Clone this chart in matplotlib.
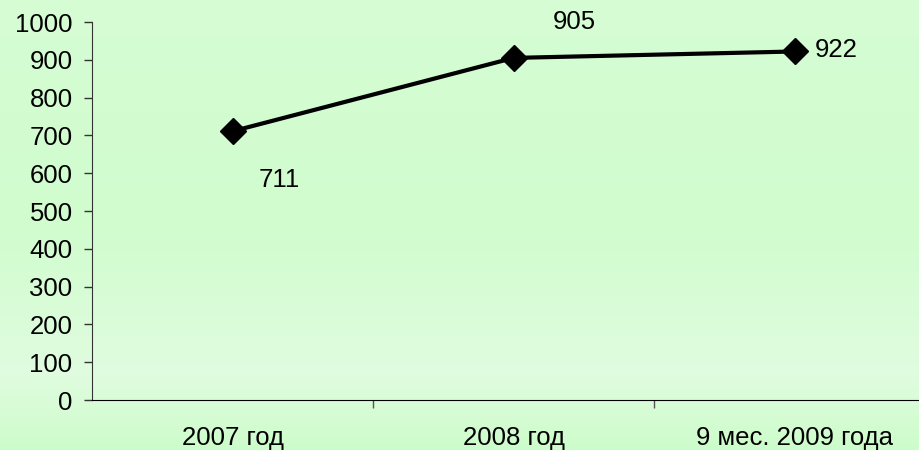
import numpy as np
import matplotlib.pyplot as plt
from matplotlib.colors import LinearSegmentedColormap

plt.rcParams['font.family'] = ['Liberation Sans', 'DejaVu Sans']

categories = ['2007 год', '2008 год', '9 мес. 2009 года']
values = [711, 905, 922]
yticks = list(range(0, 1001, 100))

fig = plt.figure(figsize=(9.2, 4.5), dpi=100)

# background gradient, pale green with lighter band near the bottom
bg = fig.add_axes([0, 0, 1, 1], zorder=0)
cmap = LinearSegmentedColormap.from_list('bg', [(0.0, '#cdfccb'), (0.17, '#e0fddf'),
                                                (0.5, '#d0fcce'), (1.0, '#d6fdd4')])
grad = np.linspace(0, 1, 256).reshape(-1, 1)
bg.imshow(grad, aspect='auto', cmap=cmap, origin='lower', extent=[0, 1, 0, 1])
bg.axis('off')

ax = fig.add_axes([92/920, 50/450, 828/920, 378/450], zorder=1)
ax.set_facecolor('none')
x = np.arange(len(categories))
ax.plot(x, values, color='black', lw=3, marker='D', ms=13, zorder=3, clip_on=False)

ax.set_xlim(-0.5, 2.446)
ax.set_ylim(0, 1000)
ax.set_yticks(yticks)
ax.set_xticks([0.5, 1.5])
ax.set_xticklabels([])
ax.tick_params(axis='x', direction='out', length=6, width=1, color='#555555')
ax.tick_params(axis='y', direction='out', length=6, width=1, color='#333333',
               labelsize=18.5, pad=8)
for xi, lab in zip(x, categories):
    ax.text(xi, -0.1, lab, transform=ax.get_xaxis_transform(), ha='center', va='center',
            fontsize=18.5)

for side in ['top', 'right']:
    ax.spines[side].set_visible(False)
ax.spines['left'].set_color('#333333')
ax.spines['bottom'].set_color('black')

offsets = [(47, -49), (61, 36), (42, 1)]
for xi, v, off in zip(x, values, offsets):
    ax.annotate(str(v), (xi, v), xytext=off, textcoords='offset pixels',
                ha='center', va='center', fontsize=18.5)

fig.savefig('out.png', dpi=100)
